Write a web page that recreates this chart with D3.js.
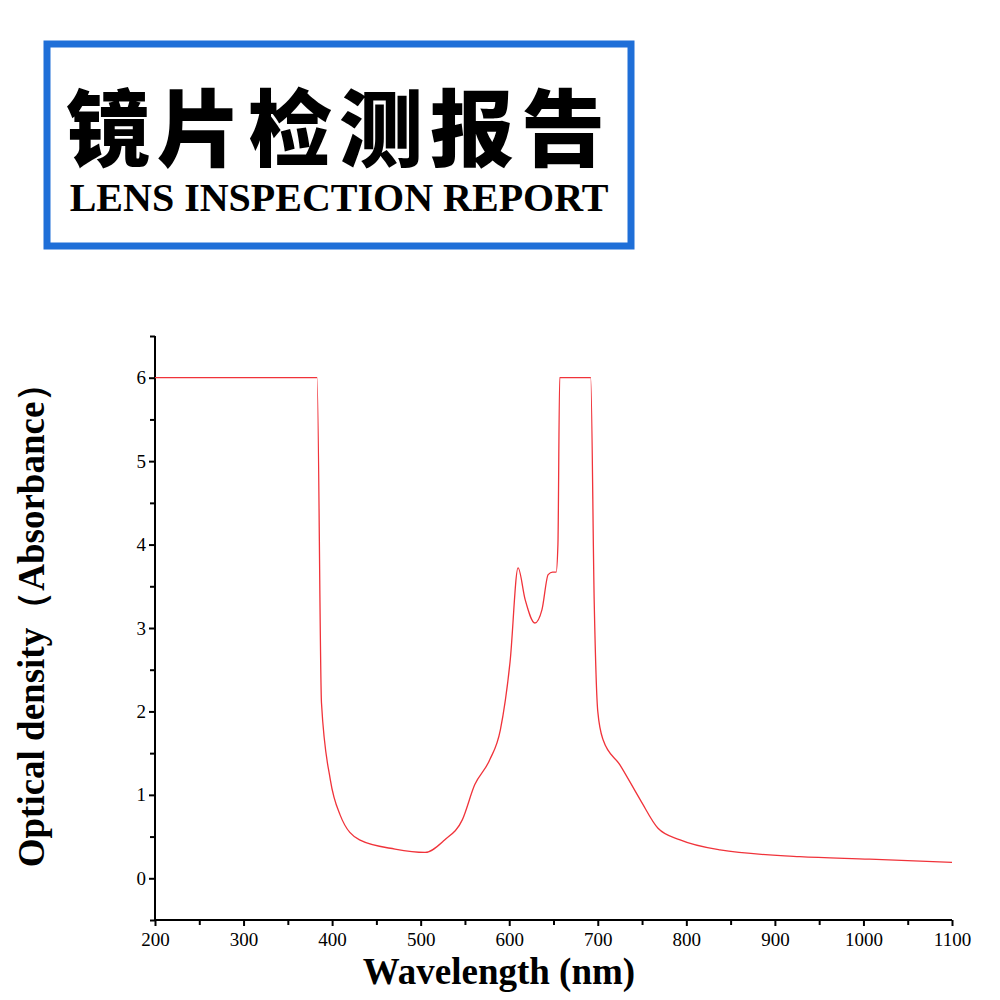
<!DOCTYPE html>
<html><head><meta charset="utf-8">
<script src="https://cdn.jsdelivr.net/npm/d3@7"></script>
<style>body{margin:0;background:#fff}</style></head>
<body><svg id="c" width="1000" height="1000"></svg>
<script>
const wavelength = [200,380,383,388,398,409,431,471,505,527,547,561,578,590,601,610,618,629,637,644,649,653,655,657,692,696,700,706,725,748,768,793,838,928,1007,1100];
const density    = [6,6,6,2.1,1.18,0.76,0.46,0.35,0.31,0.46,0.70,1.12,1.42,1.78,2.6,3.72,3.34,3.06,3.22,3.64,3.67,3.67,4.0,6,6,3.3,2.0,1.66,1.36,0.94,0.6,0.46,0.34,0.26,0.23,0.19];
const xTicks = [200,300,400,500,600,700,800,900,1000,1100];
const yTicks = [0,1,2,3,4,5,6];

const svg = d3.select("#c");
const serif = "'Liberation Serif','Times New Roman',serif";
svg.append("rect").attr("x",47).attr("y",44).attr("width",584).attr("height",202)
  .attr("fill","none").attr("stroke","#1f6fd8").attr("stroke-width",7);
svg.append("text").attr("x",339).attr("y",160).attr("text-anchor","middle")
  .attr("font-family","'Noto Sans CJK SC'").attr("font-weight",900).attr("font-size",84)
  .attr("letter-spacing",7).text("镜片检测报告");
svg.append("text").attr("x",339).attr("y",211).attr("text-anchor","middle")
  .attr("font-family",serif).attr("font-weight","bold").attr("font-size",40)
  .text("LENS INSPECTION REPORT");

const x = d3.scaleLinear().domain([200,1100]).range([155,952]);
const y = d3.scaleLinear().domain([-0.5,6.5]).range([920,336]);

const xa = svg.append("g").attr("transform","translate(0,920)")
  .call(d3.axisBottom(x).tickValues(d3.range(200,1101,50)).tickSize(6).tickFormat(d=>xTicks.includes(d)?d:""));
const ya = svg.append("g").attr("transform","translate(155,0)")
  .call(d3.axisLeft(y).tickValues(d3.range(-0.5,6.51,0.5)).tickSize(6).tickFormat(d=>yTicks.includes(d)?d:""));
[xa,ya].forEach(a=>{a.selectAll("path,line").attr("stroke","#000").attr("stroke-width",2);
  a.selectAll("text").attr("font-family",serif).attr("font-size",19).attr("fill","#000");});
xa.selectAll(".tick line").filter(d=>!xTicks.includes(d)).attr("y2",5);
ya.selectAll(".tick line").filter(d=>!yTicks.includes(d)).attr("x2",-5);
xa.selectAll(".tick text").attr("dy","0.9em");
ya.select(".domain").attr("d","M0,336V920");
xa.select(".domain").attr("d","M155,0H952");

svg.append("path").datum(wavelength.map((w,i)=>[w,density[i]]))
  .attr("d",d3.line().x(d=>x(d[0])).y(d=>y(d[1])).curve(d3.curveMonotoneX))
  .attr("fill","none").attr("stroke","#f0333a").attr("stroke-width",1.3);

svg.append("text").attr("x",499).attr("y",984).attr("text-anchor","middle")
  .attr("font-family",serif).attr("font-weight","bold").attr("font-size",37).text("Wavelength (nm)");
svg.append("text").attr("transform","translate(44,616) rotate(-90)").attr("text-anchor","middle")
  .attr("font-family",serif).attr("font-weight","bold").attr("font-size",37).text("Optical density（Absorbance）");
</script></body></html>
